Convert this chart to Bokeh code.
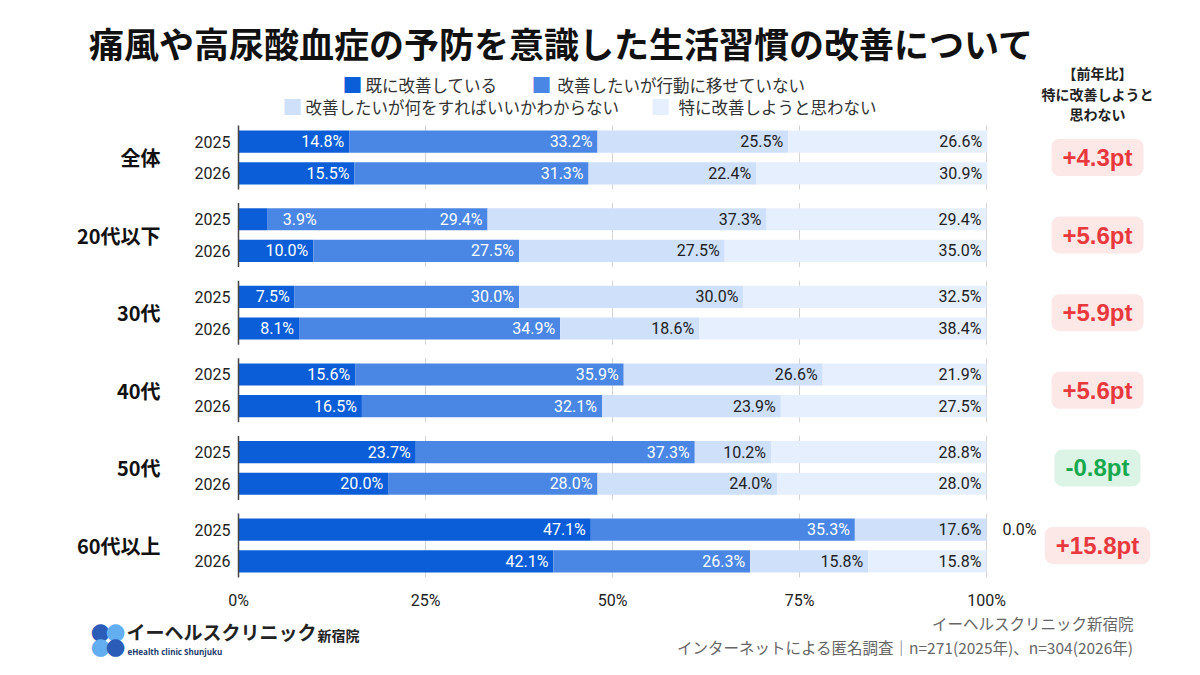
from bokeh.plotting import figure
from bokeh.models import Range1d, Label
from bokeh.core.properties import value
from bokeh.embed import file_html
from bokeh.resources import INLINE

# ---------------- data ----------------
groups = ["全体", "20代以下", "30代", "40代", "50代", "60代以上"]
years = ["2025", "2026"]
series_names = ["既に改善している", "改善したいが行動に移せていない",
                "改善したいが何をすればいいかわからない", "特に改善しようと思わない"]
# rows: group x year (2025, 2026)
s_already = [14.8, 15.5, 3.9, 10.0, 7.5, 8.1, 15.6, 16.5, 23.7, 20.0, 47.1, 42.1]
s_cannot = [33.2, 31.3, 29.4, 27.5, 30.0, 34.9, 35.9, 32.1, 37.3, 28.0, 35.3, 26.3]
s_unknown = [25.5, 22.4, 37.3, 27.5, 30.0, 18.6, 26.6, 23.9, 10.2, 24.0, 17.6, 15.8]
s_none = [26.6, 30.9, 29.4, 35.0, 32.5, 38.4, 21.9, 27.5, 28.8, 28.0, 0.0, 15.8]
yoy_diff = [4.3, 5.6, 5.9, 5.6, -0.8, 15.8]
x_ticks = [0, 25, 50, 75, 100]
x_tick_labels = ["0%", "25%", "50%", "75%", "100%"]

colors = ["#0b5ed7", "#4a86e4", "#cfe0fb", "#e6effd"]
label_colors = ["white", "white", "#222222", "#222222"]

W, H = 1200, 675
L, R = 238, 986      # pixel x of 0% and 100%
GS = 49.0            # units between group centers
ROW = 10.0           # row offset from group center
PX_PER_UNIT = 77.6 / GS
G0 = 157             # pixel y of first group center


def X(px):
    return (px - L) / (R - L) * 100.0


def Y(py):
    return (py - G0) / PX_PER_UNIT


p = figure(width=W, height=H, output_backend="svg", toolbar_location=None,
           x_range=Range1d(X(0), X(W)), y_range=Range1d(Y(H), Y(0)),
           x_axis_location=None, y_axis_location=None,
           min_border=0, title=None)
p.outline_line_color = None
p.xgrid.visible = False
p.ygrid.visible = False
p.background_fill_color = "white"
p.border_fill_color = "white"

NUMF = value("Roboto")
JPF = value("Noto Sans CJK JP")
JP = "Noto Sans CJK JP"

all_series = [s_already, s_cannot, s_unknown, s_none]
row_y = []
for gi in range(len(groups)):
    for yi in range(len(years)):
        row_y.append(GS * gi + (-ROW if yi == 0 else ROW))

# gridlines per group
gx0, gy0, gy1 = [], [], []
for gi in range(len(groups)):
    for t in x_ticks[1:]:
        gx0.append(t)
        gy0.append(GS * gi - 20.2)
        gy1.append(GS * gi + 20.2)
p.segment(x0=gx0, y0=gy0, x1=gx0, y1=gy1, line_color="#d4d4d4", line_width=1)

# bars
bl, br, by, bc = [], [], [], []
lab_x, lab_y, lab_t, lab_c = [], [], [], []
sm_x, sm_y, sm_t, sm_c = [], [], [], []
out_x, out_y, out_t = [], [], []
for ri in range(len(row_y)):
    cum = 0.0
    for si, s in enumerate(all_series):
        v = s[ri]
        bl.append(cum)
        br.append(cum + v)
        by.append(row_y[ri])
        bc.append(colors[si])
        txt = f"{v:.1f}%"
        if v == 0:
            out_x.append(cum + v); out_y.append(row_y[ri]); out_t.append(txt)
        elif v < 5:
            sm_x.append(cum + v); sm_y.append(row_y[ri]); sm_t.append(txt); sm_c.append(label_colors[si])
        else:
            lab_x.append(cum + v); lab_y.append(row_y[ri]); lab_t.append(txt); lab_c.append(label_colors[si])
        cum += v

p.quad(left=bl, right=br, bottom=[y - 7.0 for y in by], top=[y + 7.0 for y in by],
       fill_color=bc, line_color=None)

# axis line per group
ax_y0 = [GS * gi - 20.2 for gi in range(len(groups))]
ax_y1 = [GS * gi + 20.2 for gi in range(len(groups))]
p.segment(x0=[0] * len(groups), y0=ax_y0, x1=[0] * len(groups), y1=ax_y1,
          line_color="#444444", line_width=1.5)

# bar value labels
p.text(x=lab_x, y=lab_y, text=lab_t, text_color=lab_c, text_align="right",
       text_baseline="middle", x_offset=-5, text_font=NUMF, text_font_size="16px")
p.text(x=sm_x, y=sm_y, text=sm_t, text_color=sm_c, text_align="left",
       text_baseline="middle", x_offset=15, text_font=NUMF, text_font_size="16px")
p.text(x=out_x, y=out_y, text=out_t, text_color="#222222", text_align="left",
       text_baseline="middle", x_offset=16, text_font=NUMF, text_font_size="16px")

# x tick labels
p.text(x=x_ticks, y=[Y(600)] * len(x_ticks), text=x_tick_labels, text_align="center",
       text_baseline="middle", text_font=NUMF, text_font_size="16px", text_color="#222222")

# year labels
p.text(x=[0] * len(row_y), y=row_y, text=[years[i % 2] for i in range(len(row_y))],
       text_align="right", text_baseline="middle", x_offset=-8, text_font=NUMF,
       text_font_size="16px", text_color="#222222")

# group labels
p.text(x=[X(160)] * len(groups), y=[GS * gi for gi in range(len(groups))], text=groups,
       text_align="right", text_baseline="middle", text_font=JPF,
       text_font_style="bold", text_font_size="20px", text_color="#111111")

# YoY badges
for gi, d in enumerate(yoy_diff):
    pos = d >= 0
    p.add_layout(Label(x=X(1097), y=GS * gi, text=f"{d:+.1f}pt",
                       text_align="center", text_baseline="middle",
                       text_font="Liberation Sans", text_font_style="bold",
                       text_font_size="24px",
                       text_color="#e8383d" if pos else "#17a84e",
                       background_fill_color="#fde8e8" if pos else "#dcf4e5",
                       padding=dict(left=11, right=11, top=5, bottom=5),
                       border_radius=8))

# right header
for txt, py in [("【前年比】", 72), ("特に改善しようと", 93), ("思わない", 113)]:
    p.add_layout(Label(x=X(1097), y=Y(py), text=txt, text_align="center",
                       text_baseline="middle", text_font=JP,
                       text_font_style="bold", text_font_size="14px", text_color="#222222"))

# title
p.add_layout(Label(x=X(561), y=Y(42), text="痛風や高尿酸血症の予防を意識した生活習慣の改善について",
                   text_align="center", text_baseline="middle", text_font=JP,
                   text_font_style="bold", text_font_size="35px", text_color="#111111"))

# legend
legend_pos = [(352, 84, 365), (541, 84, 557), (292, 106, 305), (660, 106, 678)]
for si, (sx, sy, tx) in enumerate(legend_pos):
    p.add_layout(Label(x=X(sx), y=Y(sy), text="■", text_align="center",
                       text_baseline="middle", text_font=JP,
                       text_font_size="20px", text_color=colors[si]))
    p.add_layout(Label(x=X(tx), y=Y(sy), text=series_names[si], text_align="left",
                       text_baseline="middle", text_font=JP,
                       text_font_size="16.5px", text_color="#333333"))

# footer source
p.add_layout(Label(x=X(1133), y=Y(622), text="イーヘルスクリニック新宿院", text_align="right",
                   text_baseline="middle", text_font=JP, text_font_size="15.5px",
                   text_color="#666666"))
p.add_layout(Label(x=X(1133), y=Y(646),
                   text="インターネットによる匿名調査｜n=271(2025年)、n=304(2026年)",
                   text_align="right", text_baseline="middle", text_font=JP,
                   text_font_size="15.5px", text_color="#666666"))

# logo
for (cx, cy, cc) in [(100, 630, "#2b5cb8"), (115, 630, "#62aef0"),
                     (100, 645, "#62aef0"), (115, 645, "#2b5cb8")]:
    p.add_layout(Label(x=X(cx), y=Y(cy), text="●", text_align="center",
                       text_baseline="middle", text_font="DejaVu Sans",
                       text_font_size="23px", text_color=cc))
p.add_layout(Label(x=X(126), y=Y(631), text="イーヘルスクリニック", text_align="left",
                   text_baseline="middle", text_font=JP, text_font_style="bold",
                   text_font_size="19px", text_color="#222222"))
p.add_layout(Label(x=X(317), y=Y(634), text="新宿院", text_align="left",
                   text_baseline="middle", text_font=JP, text_font_style="bold",
                   text_font_size="14px", text_color="#222222"))
p.add_layout(Label(x=X(127), y=Y(651), text="eHealth clinic Shunjuku", text_align="left",
                   text_baseline="middle", text_font="Open Sans", text_font_style="bold",
                   text_font_size="8px", text_color="#1b3a6b"))

open("out.html", "w").write(file_html(p, INLINE))
